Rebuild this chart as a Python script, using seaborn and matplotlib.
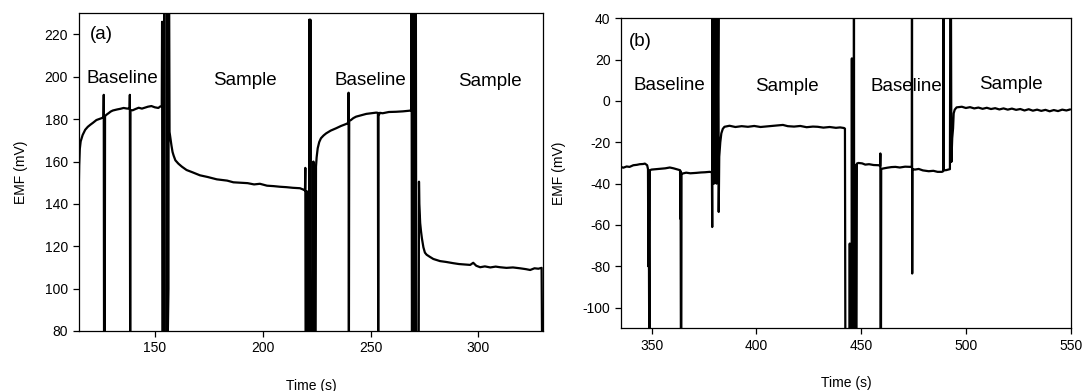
import matplotlib
matplotlib.use("Agg")
import matplotlib.pyplot as plt
import seaborn as sns
import pandas as pd

# ---------------- data ----------------
time_a = [114.6, 114.9, 115.2, 115.6, 116.5, 117.7, 118.9, 120.1, 121.3, 122.9, 124.5, 125.6, 126.2,
          126.3, 126.45, 126.6, 126.75, 126.9,
          127.8, 128.5, 129.5, 130.5, 132.5, 134.0, 135.5, 137.2, 138.3,
          138.4, 138.55, 138.7,
          139.7, 141.0, 142.5, 144.0, 145.2, 146.8, 148.4, 150.0, 151.6, 152.5, 153.2,
          153.35, 153.5, 154.2, 154.3, 154.45, 155.5, 155.6, 155.75, 156.3, 156.4, 156.6, 156.8,
          157.0, 157.3, 157.7, 158.2, 158.7, 159.5, 160.9, 162.5, 164.7, 167.5, 170.9, 174.5, 178.7,
          183.5, 186.4, 189.5, 193.0, 196.0, 198.7, 202.0, 205.0, 208.0, 211.0, 214.0, 217.3, 219.2, 219.6,
          219.75, 219.9, 220.3, 220.45, 220.6, 221.5, 221.6, 221.8, 222.1, 222.3, 222.5, 223.4, 223.5,
          223.65, 224.5,
          224.7, 225.0, 225.5, 226.2, 227.0, 228.2, 229.4, 231.5, 234.0, 236.3, 238.6, 239.6,
          239.8, 239.95, 240.1,
          240.9, 242.0, 243.3, 245.5, 248.0, 250.3, 252.6, 253.4,
          253.55, 253.7,
          254.3, 255.6, 258.5, 261.8, 265.0, 268.0, 268.9,
          269.0, 269.2, 269.6, 269.8, 270.1, 270.3, 270.6, 271.0, 271.2, 272.3, 272.45,
          272.6, 273.0, 273.4, 273.8, 274.5, 275.2, 276.0, 277.5, 279.1, 282.2, 285.0, 288.4, 291.0,
          293.5, 296.2, 297.6, 299.0, 300.8, 303.0, 305.5, 308.0, 310.0, 313.0, 316.0, 319.3, 322.0,
          324.0, 326.0, 327.8, 329.3, 329.6]
emf_a = [140.0, 158.0, 166.0, 169.5, 172.5, 175.0, 176.4, 177.4, 178.3, 179.6, 180.2, 180.6, 181.0,
         191.5, 60.0, 150.0, 60.0, 181.5,
         182.3, 182.8, 183.6, 184.1, 184.6, 184.9, 185.3, 185.0, 185.1,
         191.5, 60.0, 184.3,
         184.2, 184.8, 185.4, 185.0, 185.4, 185.9, 186.2, 185.6, 185.3, 186.0, 186.2,
         226.0, 60.0, 60.0, 245.0, 60.0, 60.0, 245.0, 60.0, 100.0, 245.0, 245.0, 174.0,
         172.5, 170.2, 167.5, 164.5, 162.8, 160.6, 159.0, 157.6, 156.0, 154.9, 153.5, 152.7, 151.6,
         151.0, 150.2, 150.0, 149.8, 149.2, 149.5, 148.6, 148.4, 148.1, 147.9, 147.6, 147.4, 146.6, 146.3,
         157.0, 60.0, 60.0, 146.0, 60.0, 60.0, 227.0, 60.0, 227.0, 110.0, 60.0, 60.0, 160.0,
         60.0, 60.0,
         157.6, 162.0, 166.3, 169.2, 171.0, 172.3, 173.3, 174.6, 175.7, 176.8, 177.7, 178.2,
         192.5, 60.0, 179.2,
         179.6, 180.5, 181.2, 181.8, 182.5, 182.8, 183.1, 183.0,
         60.0, 181.5,
         183.0, 182.8, 183.4, 183.5, 183.7, 184.0, 184.2,
         245.0, 60.0, 245.0, 60.0, 195.0, 245.0, 60.0, 245.0, 60.0, 60.0, 150.5,
         140.0, 131.0, 127.0, 123.8, 119.5, 117.0, 116.0, 115.0, 114.0, 113.0, 112.6, 112.0, 111.6,
         111.4, 111.2, 112.2, 110.8, 110.1, 110.5, 110.0, 110.4, 110.1, 109.8, 110.0, 109.6, 109.2,
         108.8, 109.6, 109.4, 109.8, 60.0]

time_b = [335.4, 336.5, 338.1, 339.5, 341.3, 343.0, 344.4, 346.0, 346.8, 347.9, 348.3,
          348.45, 348.6, 348.75, 348.9, 349.1, 349.2,
          350.0, 352.0, 354.0, 356.5, 358.7, 360.5, 362.7, 363.6,
          363.75, 363.85, 364.0, 364.2, 364.3,
          364.9, 366.5, 368.5, 371.4, 373.5, 375.5, 377.7, 378.8,
          378.95, 379.1, 379.3, 379.6, 379.8, 380.1, 380.4, 380.7, 381.0, 381.2, 381.5, 381.9, 382.05,
          382.3, 382.8, 383.3, 384.0, 384.8, 387.2,
          390.0, 393.0, 396.0, 399.0, 402.0, 405.0, 408.0, 410.5, 412.7, 415.0, 418.0, 421.0, 424.0,
          427.0, 429.3, 432.0, 435.0, 438.0, 440.0, 441.9, 442.3,
          442.5, 444.5, 444.6, 444.7, 445.5, 445.6, 445.75, 445.9, 446.0, 446.5, 446.6, 446.7, 447.3,
          447.4, 447.5, 447.8,
          448.0, 448.7, 450.5, 452.0, 453.8, 456.0, 458.5, 459.1,
          459.2, 459.3, 459.5, 459.6,
          460.4, 462.5, 464.5, 466.4, 468.5, 471.0, 473.6, 474.2,
          474.3, 474.4, 474.5,
          475.7, 477.5, 479.5, 482.3, 484.5, 486.5, 488.6, 489.2,
          489.35, 489.5,
          490.5, 492.4, 492.6, 492.9, 493.1, 493.5, 493.9, 494.2, 494.7, 495.6, 498.1,
          500.0, 502.0, 504.0, 506.0, 508.0, 510.0, 512.0, 514.0, 516.0, 518.0, 520.0, 522.0, 524.0,
          526.0, 528.0, 530.0, 532.0, 534.0, 536.0, 538.0, 540.0, 542.0, 544.0, 546.0, 548.0, 549.8]
emf_b = [-31.9, -32.3, -31.7, -31.9, -31.1, -30.9, -30.6, -30.5, -30.3, -31.1, -33.0,
         -80.0, -34.0, -80.0, -120.0, -120.0, -33.5,
         -33.2, -33.0, -32.8, -32.6, -32.2, -32.6, -33.2, -33.5,
         -57.0, -34.0, -120.0, -120.0, -35.0,
         -35.1, -34.7, -35.0, -34.8, -34.6, -34.5, -34.3, -34.5,
         -61.0, 50.0, -35.0, 50.0, -40.0, 50.0, -39.0, 50.0, -40.0, 50.0, -25.0, 50.0, -53.7,
         -27.0, -20.0, -15.7, -13.5, -12.5, -12.0,
         -12.6, -12.2, -12.5, -12.1, -12.6, -12.3, -12.0, -11.8, -11.6, -12.2, -12.4, -12.1, -12.7,
         -12.4, -12.5, -12.9, -12.6, -13.0, -12.8, -13.1, -13.4,
         -120.0, -120.0, -69.0, -120.0, -120.0, 20.6, -120.0, 15.0, -120.0, -120.0, 50.0, -120.0, -120.0,
         -31.0, -120.0, -120.0,
         -30.3, -30.0, -30.2, -30.8, -30.6, -31.0, -31.1, -31.5,
         -25.4, -120.0, -120.0, -33.0,
         -32.7, -32.3, -32.0, -31.9, -32.2, -31.8, -31.9, -32.0,
         50.0, -83.5, -33.0,
         -33.2, -32.9, -33.6, -34.0, -33.8, -34.3, -34.3, -34.0,
         50.0, -33.5,
         -33.5, -33.0, 50.0, 50.0, -29.5, -18.0, -13.3, -6.0, -4.2, -3.1, -2.8,
         -3.4, -3.0, -3.6, -3.2, -3.8, -3.3, -3.9, -3.5, -4.1, -3.6, -4.2, -3.7, -4.3,
         -3.9, -4.6, -4.0, -4.7, -4.2, -4.8, -4.3, -5.0, -4.4, -4.9, -4.2, -4.6, -4.1]

labels_a = ["(a)", "Baseline", "Sample", "Baseline", "Sample"]
label_t_a = [120.0, 135.0, 191.6, 250.1, 305.3]
label_v_a = [220.0, 199.3, 198.2, 198.2, 197.7]
labels_b = ["(b)", "Baseline", "Sample", "Baseline", "Sample"]
label_t_b = [339.0, 358.7, 414.4, 471.8, 521.5]
label_v_b = [28.7, 7.7, 7.2, 6.9, 8.2]

xticks_a = [150, 200, 250, 300]
yticks_a = [80, 100, 120, 140, 160, 180, 200, 220]
xticks_b = [350, 400, 450, 500, 550]
yticks_b = [-100, -80, -60, -40, -20, 0, 20, 40]

# ---------------- style ----------------
sns.set_style("ticks")
plt.rcParams["font.family"] = ["Liberation Sans", "DejaVu Sans"]
plt.rcParams["axes.unicode_minus"] = False

fig = plt.figure(figsize=(10.86, 3.91), dpi=100)
ax_a = fig.add_axes([0.0723, 0.1535, 0.428, 0.8125])
ax_b = fig.add_axes([0.5718, 0.1604, 0.4144, 0.7928])

df_a = pd.DataFrame({"t": time_a, "emf": emf_a})
df_b = pd.DataFrame({"t": time_b, "emf": emf_b})

sns.lineplot(data=df_a, x="t", y="emf", ax=ax_a, sort=False, estimator=None,
             color="black", linewidth=1.6)
sns.lineplot(data=df_b, x="t", y="emf", ax=ax_b, sort=False, estimator=None,
             color="black", linewidth=1.6)

ax_a.set_xlim(114.6, 330.1)
ax_a.set_ylim(80, 230)
ax_b.set_xlim(335.4, 550.2)
ax_b.set_ylim(-110, 40)

for ax, xt, yt in [(ax_a, xticks_a, yticks_a), (ax_b, xticks_b, yticks_b)]:
    ax.set_xticks(xt)
    ax.set_yticks(yt)
    ax.tick_params(direction="out", length=4, width=0.9, labelsize=10,
                   colors="black", labelcolor="black")
    for s in ax.spines.values():
        s.set_visible(True)
        s.set_linewidth(0.9)
        s.set_color("black")
    ax.set_xlabel("Time (s)", fontsize=10, labelpad=17, color="black")
    ax.set_ylabel("EMF (mV)", fontsize=10, labelpad=12, color="black")

for lab, tx, vy in zip(labels_a, label_t_a, label_v_a):
    ha = "left" if lab.startswith("(") else "center"
    ax_a.text(tx, vy, lab, fontsize=13.5, ha=ha, va="center", color="black")
for lab, tx, vy in zip(labels_b, label_t_b, label_v_b):
    ha = "left" if lab.startswith("(") else "center"
    ax_b.text(tx, vy, lab, fontsize=13.5, ha=ha, va="center", color="black")

fig.savefig("out.png", dpi=100)
